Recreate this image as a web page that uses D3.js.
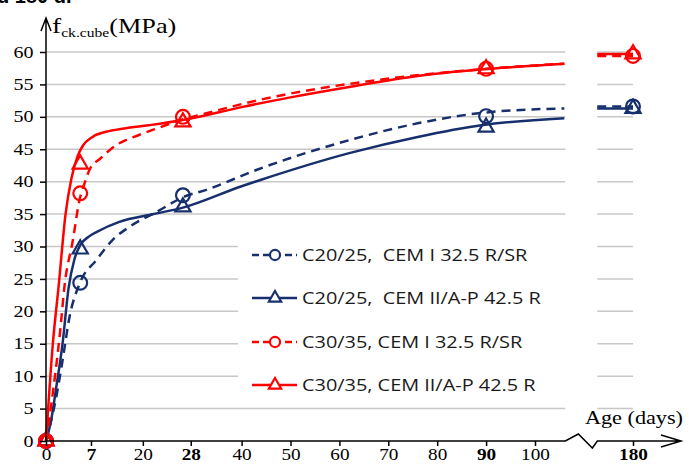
<!DOCTYPE html>
<html>
<head>
<meta charset="utf-8">
<script src="https://cdn.jsdelivr.net/npm/d3@7"></script>
<style>
body { margin: 0; background: #fff; }
svg { display: block; }
.serif text, text.serif { font-family: "Liberation Serif", "Times New Roman", serif; fill: #000; }
</style>
</head>
<body>
<svg id="chart" width="689" height="466"></svg>
<script>
// values (days, MPa)
var yTicks = [0, 5, 10, 15, 20, 25, 30, 35, 40, 45, 50, 55, 60];
var xTickPos = [0, 9.2, 19.8, 29.6, 40, 50, 60, 70, 80, 90, 100];
var xTickLabels = ["0", "7", "20", "28", "40", "50", "60", "70", "80", "90", "100"];
var boldLabels = ["7", "28", "90", "180"];

var blueDashed = [[0,0],[2.1,6.8],[3.4,12.5],[4.8,19.1],[7,24.5],[10.3,27.9],[13.6,31],[17,33],[23,35.5],[28,37.6],[33,38.8],[43,41.8],[62,46.4],[76,49],[89,50.6],[106,51.3]];
var blueSolid = [[0,0],[1,3],[2.1,8.3],[3.4,15.1],[4.6,23.5],[5.8,28],[7,30.2],[8.9,31.6],[10.5,32.3],[15,33.8],[22,35],[28,36],[40,39.3],[44,40.3],[62,44.4],[76,46.9],[89,48.7],[106,49.8]];
var redDashed = [[0,0],[1.5,8],[2.9,17],[3.8,24],[5.5,31],[6.8,37],[8,40],[9,42],[11,43.5],[14.5,45.7],[19,47.2],[23,48.3],[28,49.6],[33,50.6],[43,52.5],[48,53.3],[69,55.8],[90,57.4],[106,58.2]];
var redSolid = [[0,0],[1.4,15],[2.6,24],[4,35],[5.2,40.5],[6.5,44],[7.5,45.5],[9.5,46.9],[12.3,47.7],[16,48.2],[21,48.7],[28,49.5],[40,51.5],[50,53],[62,54.6],[76,56.3],[89,57.3],[106,58.2]];

var markerDays = [0, 7, 28, 90, 180];
var blueCircle = [0, 24.4, 37.9, 50.1, 51.6];
var blueTriangle = [0, 29.6, 36.1, 48.4, 51.3];
var redCircle = [0, 38.2, 50, 57.4, 59.4];
var redTriangle = [0, 42.7, 49.2, 57.4, 59.7];

var legendLabels = ["C20/25,  CEM I 32.5 R/SR", "C20/25,  CEM II/A-P 42.5 R", "C30/35, CEM I 32.5 R/SR", "C30/35, CEM II/A-P 42.5 R"];

var blue = "#17306d", red = "#ff0000";

var series = [
    {label: legendLabels[0], color: blue, dashed: true, symbol: d3.symbolCircle, curve: blueDashed, marks: blueCircle},
    {label: legendLabels[1], color: blue, dashed: false, symbol: d3.symbolTriangle, curve: blueSolid, marks: blueTriangle},
    {label: legendLabels[2], color: red, dashed: true, symbol: d3.symbolCircle, curve: redDashed, marks: redCircle},
    {label: legendLabels[3], color: red, dashed: false, symbol: d3.symbolTriangle, curve: redSolid, marks: redTriangle}
];

var svg = d3.select("#chart");

var x = d3.scaleLinear().domain([0, 100]).range([46, 535]);
var x2 = d3.scaleLinear().domain([170, 190]).range([584, 682]);
var y = d3.scaleLinear().domain([0, 60]).range([441, 52]);
var xEnd = 106, x2Start = 172.7;

function px(d) { return d < 150 ? x(d) : x2(d); }

// clipped caption from above
svg.append("text")
    .attr("x", -3).attr("y", 3)
    .style("font-family", "Liberation Sans, Arial, sans-serif")
    .style("font-weight", "bold")
    .style("font-size", "20px")
    .text("d 180 d.");

// grid
var grid = svg.append("g").attr("stroke", "#c8c8c8").attr("stroke-width", 1.5);
grid.selectAll(".g1")
    .data(yTicks.slice(1))
    .enter().append("line")
    .attr("x1", x(0)).attr("x2", x(xEnd) + 1)
    .attr("y1", function(d) { return y(d); })
    .attr("y2", function(d) { return y(d); });
grid.selectAll(".g2")
    .data(yTicks.slice(1))
    .enter().append("line")
    .attr("x1", x2(x2Start)).attr("x2", x2(180))
    .attr("y1", function(d) { return y(d); })
    .attr("y2", function(d) { return y(d); });

// legend background
svg.append("rect")
    .attr("x", 238).attr("y", 228)
    .attr("width", 328).attr("height", 174)
    .attr("fill", "#fff");

// curves
var line = d3.line()
    .x(function(d) { return x(d[0]); })
    .y(function(d) { return y(d[1]); })
    .curve(d3.curveMonotoneX);

series.forEach(function(s) {
    svg.append("path")
        .datum(s.curve)
        .attr("d", line)
        .attr("fill", "none")
        .attr("stroke", s.color)
        .attr("stroke-width", 2.5)
        .attr("stroke-dasharray", s.dashed ? "9,6" : null);

    // stub in the 180-day segment
    var v = s.marks[s.marks.length - 1];
    svg.append("line")
        .attr("x1", x2(x2Start)).attr("x2", x2(180))
        .attr("y1", y(v)).attr("y2", y(v))
        .attr("stroke", s.color)
        .attr("stroke-width", 2.5)
        .attr("stroke-dasharray", s.dashed ? "9,6" : null);
});

series.forEach(function(s) {
    svg.selectAll(null)
        .data(markerDays)
        .enter().append("path")
        .attr("d", d3.symbol().type(s.symbol).size(s.symbol === d3.symbolCircle ? 150 : 100))
        .attr("transform", function(d, i) { return "translate(" + px(d) + "," + y(s.marks[i]) + ")"; })
        .attr("fill", "none")
        .attr("stroke", s.color)
        .attr("stroke-width", 2.2);
});

// x axis
var xAxis = d3.axisBottom(x)
    .tickValues(xTickPos)
    .tickFormat(function(d, i) { return xTickLabels[i]; })
    .tickSize(5)
    .tickPadding(3);

var gx = svg.append("g")
    .attr("class", "serif")
    .attr("transform", "translate(0," + y(0) + ")")
    .call(xAxis);
gx.select(".domain").remove();

var gx2 = svg.append("g")
    .attr("class", "serif")
    .attr("transform", "translate(0," + y(0) + ")")
    .call(d3.axisBottom(x2).tickValues([180]).tickSize(5).tickPadding(3));
gx2.select(".domain").remove();

svg.selectAll(".serif .tick line").attr("stroke", "#000").attr("stroke-width", 1.5);
svg.selectAll(".serif .tick text")
    .style("font-size", "16px")
    .style("font-family", "Liberation Serif, Times New Roman, serif")
    .style("font-weight", function() { return boldLabels.indexOf(this.textContent) >= 0 ? "bold" : "normal"; })
    .attr("transform", "scale(1.2,1)");

// axis line with break and arrow
var x0 = x(0), xb = x(xEnd) + 1, yb = y(0);
svg.append("path")
    .attr("d", "M" + x0 + "," + yb + "H" + xb +
        "L" + (xb + 13) + "," + (yb - 7) +
        "L" + (xb + 27) + "," + (yb + 7) +
        "L" + (xb + 32) + "," + yb +
        "H" + 681 +
        "M" + 661 + "," + (yb - 6) + "L" + 681 + "," + yb + "L" + 661 + "," + (yb + 6))
    .attr("fill", "none")
    .attr("stroke", "#000")
    .attr("stroke-width", 1.5);

// y axis
var yAxis = d3.axisLeft(y)
    .tickValues(yTicks)
    .tickSize(6)
    .tickPadding(4);

var gy = svg.append("g")
    .attr("class", "serif")
    .attr("transform", "translate(" + x0 + ",0)")
    .call(yAxis);
gy.select(".domain").remove();
gy.selectAll(".tick line").attr("stroke", "#000").attr("stroke-width", 1.5);
gy.selectAll(".tick text")
    .style("font-size", "16px")
    .attr("transform", "scale(1.25,1)");

svg.append("path")
    .attr("d", "M" + x0 + "," + yb + "V18M" + (x0 - 5) + ",31L" + x0 + ",18L" + (x0 + 5) + ",31")
    .attr("fill", "none")
    .attr("stroke", "#000")
    .attr("stroke-width", 1.5);

// axis titles
var yTitle = svg.append("g")
    .attr("transform", "translate(52,33) scale(1.25,1)")
    .append("text")
    .attr("class", "serif");
yTitle.append("tspan").style("font-size", "22px").text("f");
yTitle.append("tspan").style("font-size", "12.5px").attr("dy", 4).text("ck.cube");
yTitle.append("tspan").style("font-size", "21px").attr("dy", -4).text("(MPa)");

svg.append("g")
    .attr("transform", "translate(683,424) scale(1.17,1)")
    .append("text")
    .attr("class", "serif")
    .style("font-size", "19px")
    .style("text-anchor", "end")
    .text("Age (days)");

// legend
var legendY = [255, 298, 342, 385];
var legend = svg.selectAll(".legend")
    .data(series)
    .enter().append("g")
    .attr("class", "legend")
    .attr("transform", function(d, i) { return "translate(0," + legendY[i] + ")"; });

legend.append("line")
    .attr("x1", 252).attr("x2", 297)
    .attr("stroke", function(d) { return d.color; })
    .attr("stroke-width", 2.5)
    .attr("stroke-dasharray", function(d) { return d.dashed ? "7,4" : null; });

legend.append("path")
    .attr("d", function(d) { return d3.symbol().type(d.symbol).size(d.symbol === d3.symbolCircle ? 80 : 65)(); })
    .attr("transform", "translate(275,0)")
    .attr("fill", "#fff")
    .attr("stroke", function(d) { return d.color; })
    .attr("stroke-width", 2.2);

legend.append("g")
    .attr("transform", "translate(302,0) scale(1.17,1)")
    .append("text")
    .attr("dy", "0.36em")
    .style("font-family", "Open Sans, sans-serif")
    .style("font-size", "17px")
    .style("white-space", "pre")
    .attr("fill", "#1a1a1a")
    .text(function(d) { return d.label; });
</script>
</body>
</html>
